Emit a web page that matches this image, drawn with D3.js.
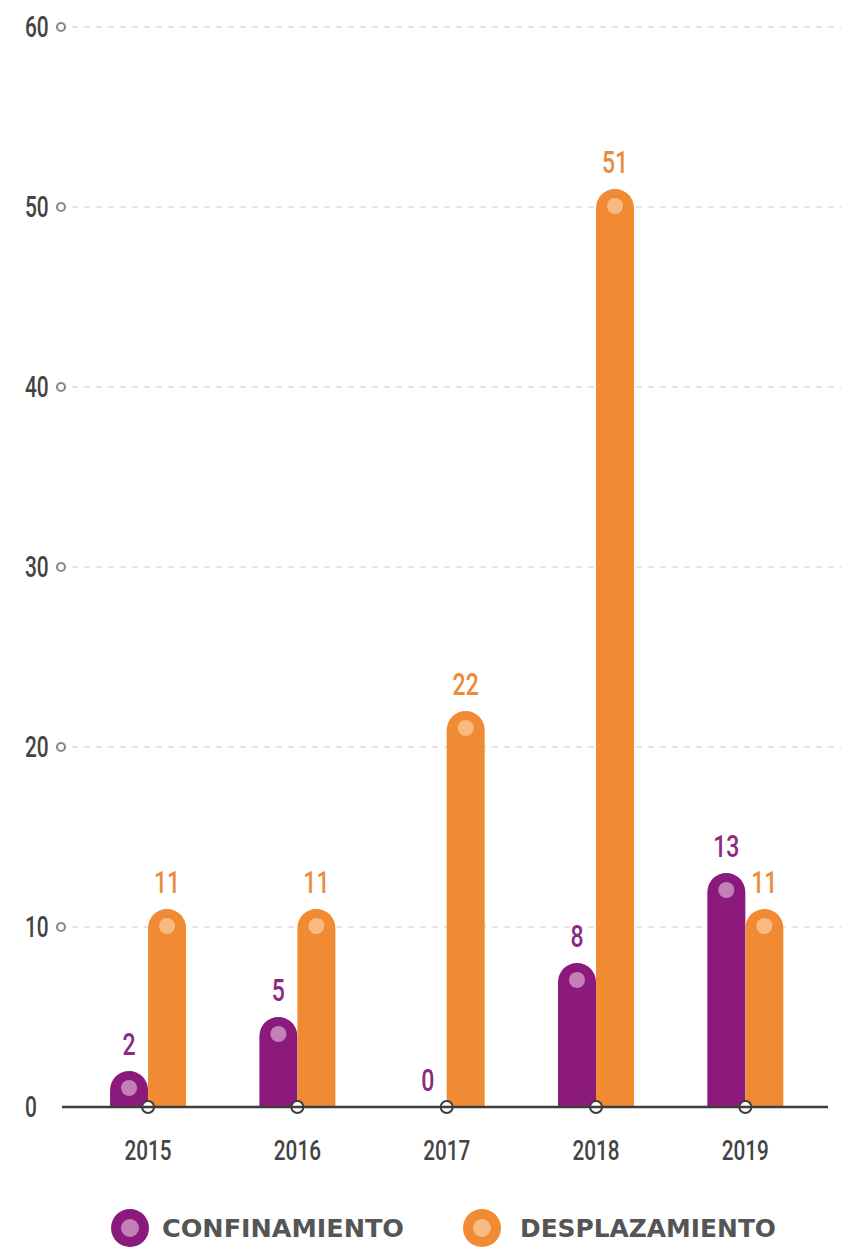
<!DOCTYPE html>
<html>
<head>
<meta charset="utf-8">
<script src="https://cdn.jsdelivr.net/npm/d3@7"></script>
<style>
  body { margin: 0; background: #fff; }
  svg { display: block; }
</style>
</head>
<body>
<svg width="841" height="1252"></svg>
<script>
const years = ['2015', '2016', '2017', '2018', '2019']
const series = ['CONFINAMIENTO', 'DESPLAZAMIENTO']
const confinamiento = [2, 5, 0, 8, 13]
const desplazamiento = [11, 11, 22, 51, 11]
const yTicks = [0, 10, 20, 30, 40, 50, 60]

const colors = { CONFINAMIENTO: '#8c1a7c', DESPLAZAMIENTO: '#f08a33' }
const dotColors = { CONFINAMIENTO: '#c280b6', DESPLAZAMIENTO: '#f7bb82' }
const labelColors = { CONFINAMIENTO: '#8a2a80', DESPLAZAMIENTO: '#e98c3e' }

// condensed look: Roboto squeezed horizontally
const cond = 'Roboto, sans-serif'
const squeeze = 0.72

const svg = d3.select('svg')

const y = d3.scaleLinear().domain([0, 60]).range([1107, 27])
const x = d3.scaleBand().domain(years).range([73.4, 820]).padding(0)
const inner = d3.scaleBand().domain(series).range([-38, 38]).padding(0)
const bw = inner.bandwidth()
const r = bw / 2

// grid lines
const grid = svg.append('g')
grid.selectAll('line').data(yTicks.filter(d => d > 0)).enter().append('line')
  .attr('x1', 72).attr('x2', 841)
  .attr('y1', d => y(d)).attr('y2', d => y(d))
  .attr('stroke', '#c9c9c9').attr('stroke-width', 1)
  .attr('stroke-dasharray', '6,6')

grid.selectAll('circle').data(yTicks.filter(d => d > 0)).enter().append('circle')
  .attr('cx', 61).attr('cy', d => y(d)).attr('r', 4)
  .attr('fill', '#fff').attr('stroke', '#8a8a8a').attr('stroke-width', 2.2)

grid.selectAll('text').data(yTicks).enter().append('text')
  .attr('transform', d => `translate(25,${y(d) + 10}) scale(${squeeze},1)`)
  .attr('font-family', cond).attr('font-size', 29).attr('font-weight', 500)
  .attr('fill', '#444')
  .text(d => d)

const rows = years.map((yr, i) => ({
  year: yr,
  values: [
    { key: 'CONFINAMIENTO', value: confinamiento[i] },
    { key: 'DESPLAZAMIENTO', value: desplazamiento[i] }
  ]
}))

function barPath(d) {
  const x0 = inner(d.key), x1 = x0 + bw
  const top = y(d.value), base = y(0)
  if (base - top < r) return ''
  return `M${x0},${base} L${x0},${top + r} A${r},${r} 0 0 1 ${x1},${top + r} L${x1},${base} Z`
}

const groups = svg.append('g').selectAll('g').data(rows).enter().append('g')
  .attr('transform', d => `translate(${x(d.year) + x.bandwidth() / 2},0)`)

groups.selectAll('path').data(d => d.values).enter().append('path')
  .attr('d', barPath)
  .attr('fill', d => colors[d.key])

groups.selectAll('circle.dot').data(d => d.values.filter(v => v.value > 0)).enter().append('circle')
  .attr('class', 'dot')
  .attr('cx', d => inner(d.key) + r)
  .attr('cy', d => y(d.value) + r - 2)
  .attr('r', 8)
  .attr('fill', d => dotColors[d.key])

groups.selectAll('text.val').data(d => d.values).enter().append('text')
  .attr('class', 'val')
  .attr('transform', d => `translate(${inner(d.key) + r},${y(d.value) - 16}) scale(${squeeze},1)`)
  .attr('text-anchor', 'middle')
  .attr('font-family', cond).attr('font-size', 32).attr('font-weight', 500)
  .attr('fill', d => labelColors[d.key])
  .text(d => d.value)

// baseline
svg.append('line')
  .attr('x1', 62).attr('x2', 828)
  .attr('y1', y(0)).attr('y2', y(0))
  .attr('stroke', '#3d3d3d').attr('stroke-width', 2.5)

groups.append('circle')
  .attr('cx', 0).attr('cy', y(0)).attr('r', 6)
  .attr('fill', '#fff').attr('stroke', '#3d3d3d').attr('stroke-width', 2)

groups.append('text')
  .attr('transform', `translate(0,1160) scale(0.74,1)`)
  .attr('text-anchor', 'middle')
  .attr('font-family', cond).attr('font-size', 28).attr('font-weight', 500)
  .attr('fill', '#444')
  .text(d => d.year)

// legend
const legendX = [130, 482]
const legendTextX = [32, 38]
const legendWidth = [242, 256]
const legend = svg.append('g').selectAll('g').data(series).enter().append('g')
  .attr('transform', (d, i) => `translate(${legendX[i]},1228)`)
legend.append('circle').attr('r', 19).attr('fill', d => colors[d])
legend.append('circle').attr('r', 9).attr('fill', d => dotColors[d])
legend.append('text')
  .attr('x', (d, i) => legendTextX[i]).attr('y', 9)
  .attr('font-family', '"DejaVu Sans", sans-serif').attr('font-weight', 'bold')
  .attr('font-size', 24)
  .attr('textLength', (d, i) => legendWidth[i])
  .attr('lengthAdjust', 'spacingAndGlyphs')
  .attr('fill', '#555')
  .text(d => d)
</script>
</body>
</html>
